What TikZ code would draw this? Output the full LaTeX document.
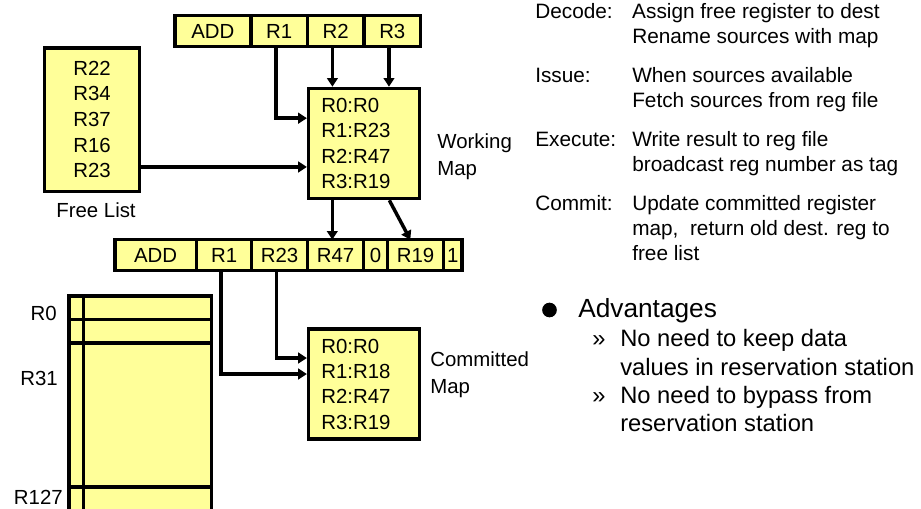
\documentclass[tikz,border=0pt]{standalone}
\usepackage{fontspec}
\setmainfont{Liberation Sans}
\usepackage{tikz}
\usetikzlibrary{arrows.meta, calc, positioning}
\definecolor{regyellow}{RGB}{255,255,153}
\newcommand{\boxfont}{\fontsize{15.3pt}{19pt}\selectfont}
\newcommand{\notefont}{\fontsize{15.6pt}{18.75pt}\selectfont}
\newcommand{\advfont}{\fontsize{19.7pt}{24pt}\selectfont}
\newcommand{\subfont}{\fontsize{17.8pt}{21.2pt}\selectfont}
\tikzset{
  reg box/.style  = {draw, fill=regyellow, line width=2.7pt},
  cell/.style     = {reg box, inner sep=0pt, outer sep=0pt,
                     minimum height=23pt, font=\boxfont},
  map box/.style  = {reg box, text width=64pt, inner xsep=9.5pt,
                     inner ysep=0pt, minimum height=82.5pt,
                     align=left, font=\boxfont},
  lbl/.style      = {inner sep=0pt, align=left,
                     font=\fontsize{15.3pt}{20pt}\selectfont},
  link/.style     = {-{Triangle[length=6.5pt, width=8pt]}, line width=2.6pt},
}

\begin{document}
\begin{tikzpicture}[x=0.75pt, y=-0.75pt]

  \useasboundingbox (0,0) rectangle (921,508);

  % ── decoded instruction ───────────────────────────────────────────────
  \node (add1) [cell, minimum width=57.2pt, anchor=west] at (174.7,31) {ADD};
  \node (r1a)  [cell, minimum width=42.4pt, right=0pt of add1] {R1};
  \node (r2a)  [cell, minimum width=42.4pt, right=0pt of r1a]  {R2};
  \node (r3a)  [cell, minimum width=42.4pt, right=0pt of r2a]  {R3};

  % free list and working map
  \node (flist) [reg box, minimum width=71pt, minimum height=107.7pt,
                 align=center, font=\fontsize{15.3pt}{19.3pt}\selectfont]
        at (92,119.5) {R22\\R34\\R37\\R16\\R23};
  \node (flab) [lbl, below=7pt of flist, xshift=3pt] {Free List};

  \node (wmap) [map box] at (364,143.5) {R0:R0\\R1:R23\\R2:R47\\R3:R19};
  \node (wlab) [lbl, anchor=west] at ($(wmap.east)+(16,13)$) {Working\\Map};

  % ── renamed instruction ───────────────────────────────────────────────
  \node (add2) [cell, minimum width=61.4pt, anchor=west] at (114.7,255) {ADD};
  \node (r1b)  [cell, minimum width=41.3pt, right=0pt of add2] {R1};
  \node (r23b) [cell, minimum width=42pt,   right=0pt of r1b]  {R23};
  \node (r47b) [cell, minimum width=42pt,   right=0pt of r23b] {R47};
  \node (rdy1) [cell, minimum width=18pt,   right=0pt of r47b] {0};
  \node (r19b) [cell, minimum width=42pt,   right=0pt of rdy1] {R19};
  \node (rdy2) [cell, minimum width=13.9pt, right=0pt of r19b] {1};

  \node (cmap) [map box] at (364,384) {R0:R0\\R1:R18\\R2:R47\\R3:R19};
  \node (clab) [lbl, anchor=west] at ($(cmap.east)+(9,-9)$) {Committed\\Map};

  % physical register file (runs off the bottom)
  \begin{scope}
    \clip (0,0) rectangle (921,508);
    \filldraw[fill=regyellow, line width=2.7pt] (68.7,295.7) rectangle (211.3,530);
    \draw[line width=2.7pt] (83.3,295.7) -- (83.3,530);
    \foreach \y in {319.3, 342.7, 486.7}
      \draw[line width=2.7pt] (68.7,\y) -- (211.3,\y);
  \end{scope}
  \node (lr0)   [lbl, anchor=east] at (57,313) {R0};
  \node (lr31)  [lbl, anchor=east] at (58,378) {R31};
  \node (lr127) [lbl, anchor=east] at (63,497) {R127};

  % ── connections (taps sit a little left of the field centres) ────────
  \coordinate (r1 tap)  at ([xshift=-2.5pt]r1a.south);
  \coordinate (r2 tap)  at ([xshift=-2.5pt]r2a.south);
  \coordinate (r3 tap)  at ([xshift=-2.5pt]r3a.south);
  \coordinate (fl in)   at ([yshift=-17.6pt]wmap.west);
  \draw[link] (r1 tap) |- ([yshift=19pt]wmap.west);
  \draw[link] (r2 tap) -- (r2 tap |- wmap.north);
  \draw[link] (r3 tap) -- (r3 tap |- wmap.north);
  \draw[link] (flist.east |- fl in) -- (fl in);

  \coordinate (r47 in) at ([xshift=-2.5pt]r47b.north);
  \draw[link] (wmap.south -| r47 in) -- (r47 in);
  \draw[link] ([xshift=19pt]wmap.south) -- ([xshift=-4pt]r19b.north);

  \draw[link] ([xshift=-2.5pt]r1b.south)  |- ([yshift=7.5pt]cmap.west);
  \draw[link] ([xshift=-2.5pt]r23b.south) |- ([yshift=19.5pt]cmap.west);

  % ── pipeline notes ────────────────────────────────────────────────────
  \node (stages) [anchor=north west, inner sep=0pt, font=\notefont] at (535,1) {%
    \begin{tabular}{@{}p{72.75pt}@{}l@{}}
      Decode:  & Assign free register to dest\\
               & Rename sources with map\\[10.5pt]
      Issue:   & When sources available\\
               & Fetch sources from reg file\\[10.5pt]
      Execute: & Write result to reg file\\
               & broadcast reg number as tag\\[10.5pt]
      Commit:  & Update committed register\\
               & map,~ return old dest. reg to\\
               & free list
    \end{tabular}};

  \fill (549.5,310) circle (5.5pt);
  \node (adv) [anchor=base west, inner sep=0pt, font=\advfont] at (578,317.5) {Advantages};
  \node (advlist) [anchor=north west, inner sep=0pt, font=\subfont] at (592,326.7) {%
    \begin{tabular}{@{}p{21pt}@{}l@{}}
      » & No need to keep data\\
        & values in reservation station\\
      » & No need to bypass from\\
        & reservation station
    \end{tabular}};

\end{tikzpicture}
\end{document}
